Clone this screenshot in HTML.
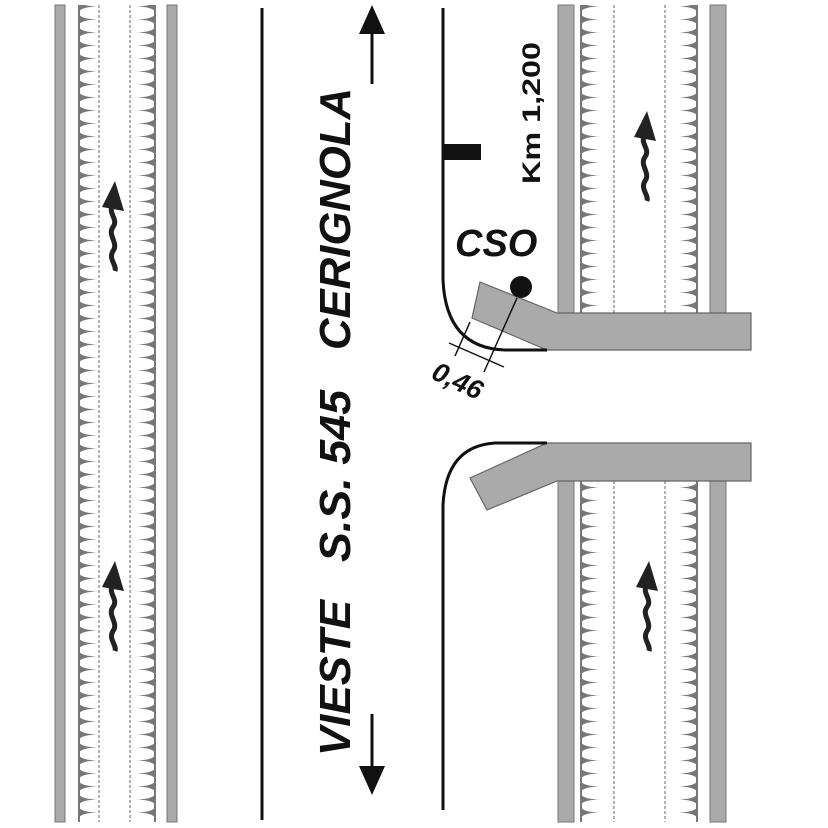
<!DOCTYPE html>
<html><head><style>html,body{margin:0;padding:0;background:#fff}svg{display:block}</style></head>
<body>
<svg width="828" height="828" viewBox="0 0 828 828" xmlns="http://www.w3.org/2000/svg">
<defs>
<pattern id="tl1" x="78" y="0" width="30" height="13" patternUnits="userSpaceOnUse">
<path d="M0,0 Q2,6 19,6.5 Q2,7 0,13 Z" fill="#777"/>
</pattern>
<pattern id="tr1" x="126" y="0" width="30" height="13" patternUnits="userSpaceOnUse">
<path d="M30,0 Q28,6 11,6.5 Q28,7 30,13 Z" fill="#777"/>
</pattern>
<pattern id="tl2" x="580" y="0" width="30" height="13" patternUnits="userSpaceOnUse">
<path d="M0,0 Q2,6 19,6.5 Q2,7 0,13 Z" fill="#777"/>
</pattern>
<pattern id="tr2" x="668" y="0" width="30" height="13" patternUnits="userSpaceOnUse">
<path d="M30,0 Q28,6 11,6.5 Q28,7 30,13 Z" fill="#777"/>
</pattern>
<g id="wave">
<path d="M0,0 C-6,8 6,14 0,22 C-6,30 6,38 0,46 C-5,54 4,60 2,66" fill="none" stroke="#222" stroke-width="5"/>
<path d="M-11,2 L2,-24 L11,6 Z" fill="#222"/>
</g>
</defs>
<rect x="55" y="5" width="10" height="817" fill="#aaa" stroke="#777" stroke-width="1"/>
<rect x="167" y="5" width="10" height="817" fill="#aaa" stroke="#777" stroke-width="1"/>
<rect x="78" y="5" width="20" height="817" fill="url(#tl1)"/>
<rect x="126" y="5" width="30" height="817" fill="url(#tr1)"/>
<line x1="79" y1="5" x2="79" y2="822" stroke="#777" stroke-width="2"/>
<line x1="155" y1="5" x2="155" y2="822" stroke="#777" stroke-width="2"/>
<line x1="99" y1="5" x2="99" y2="822" stroke="#888" stroke-width="1.3" stroke-dasharray="3,2"/>
<line x1="130" y1="5" x2="130" y2="822" stroke="#888" stroke-width="1.3" stroke-dasharray="3,2"/>
<use href="#wave" x="113" y="205"/>
<use href="#wave" x="113" y="585"/>
<g>
<rect x="558" y="5" width="16" height="308" fill="#aaa" stroke="#777"/>
<rect x="710" y="5" width="16" height="308" fill="#aaa" stroke="#777"/>
<rect x="580" y="5" width="20" height="308" fill="url(#tl2)"/>
<rect x="668" y="5" width="30" height="308" fill="url(#tr2)"/>
<line x1="581" y1="5" x2="581" y2="313" stroke="#777" stroke-width="2"/>
<line x1="697" y1="5" x2="697" y2="313" stroke="#777" stroke-width="2"/>
<line x1="614" y1="5" x2="614" y2="313" stroke="#888" stroke-width="1.3" stroke-dasharray="3,2"/>
<line x1="665" y1="5" x2="665" y2="313" stroke="#888" stroke-width="1.3" stroke-dasharray="3,2"/>
</g>
<g>
<rect x="558" y="481" width="16" height="341" fill="#aaa" stroke="#777"/>
<rect x="710" y="481" width="16" height="341" fill="#aaa" stroke="#777"/>
<rect x="580" y="481" width="20" height="341" fill="url(#tl2)"/>
<rect x="668" y="481" width="30" height="341" fill="url(#tr2)"/>
<line x1="581" y1="481" x2="581" y2="822" stroke="#777" stroke-width="2"/>
<line x1="697" y1="481" x2="697" y2="822" stroke="#777" stroke-width="2"/>
<line x1="614" y1="481" x2="614" y2="822" stroke="#888" stroke-width="1.3" stroke-dasharray="3,2"/>
<line x1="665" y1="481" x2="665" y2="822" stroke="#888" stroke-width="1.3" stroke-dasharray="3,2"/>
</g>
<use href="#wave" x="645" y="135"/>
<use href="#wave" x="647" y="585"/>
<polygon points="480,282 557,313 751,313 751,350 547,350 472,318" fill="#aaa" stroke="#666" stroke-width="1.2"/>
<polygon points="547,443 751,443 751,481 557,481 487,510 470,478" fill="#aaa" stroke="#666" stroke-width="1.2"/>
<line x1="262" y1="8" x2="262" y2="820" stroke="#111" stroke-width="3"/>
<path d="M443,8 L443,280 Q446,348 505,350 L547,350" fill="none" stroke="#111" stroke-width="3"/>
<path d="M547,443 L495,443 Q446,446 443,505 L443,810" fill="none" stroke="#111" stroke-width="3"/>
<rect x="443" y="144" width="38" height="16" fill="#111"/>
<circle cx="521" cy="287" r="11" fill="#111"/>
<line x1="517" y1="298" x2="484" y2="372" stroke="#111" stroke-width="1.5"/>
<line x1="470" y1="322" x2="455" y2="356" stroke="#111" stroke-width="1.5"/>
<line x1="449" y1="343" x2="504" y2="367" stroke="#111" stroke-width="1.5"/>
<text x="0" y="0" transform="translate(430,378) rotate(25)" font-family="Liberation Sans, sans-serif" font-weight="bold" font-style="italic" font-size="27" fill="#111">0,46</text>
<text x="455" y="256" font-family="Liberation Sans, sans-serif" font-weight="bold" font-style="italic" font-size="38" fill="#111">CSO</text>
<text transform="translate(540,184) rotate(-90)" font-family="Liberation Sans, sans-serif" font-weight="bold" font-size="25" fill="#111" textLength="142" lengthAdjust="spacingAndGlyphs">Km 1,200</text>
<g font-family="Liberation Sans, sans-serif" font-weight="bold" font-style="italic" font-size="44" fill="#111">
<text transform="translate(350,756) rotate(-90)" textLength="156" lengthAdjust="spacingAndGlyphs">VIESTE</text>
<text transform="translate(350,562) rotate(-90)" textLength="172" lengthAdjust="spacingAndGlyphs">S.S. 545</text>
<text transform="translate(350,350) rotate(-90)" textLength="262" lengthAdjust="spacingAndGlyphs">CERIGNOLA</text>
</g>
<line x1="372" y1="84" x2="372" y2="25" stroke="#111" stroke-width="3"/>
<polygon points="359,34 372,5 385,34" fill="#111"/>
<line x1="372" y1="714" x2="372" y2="775" stroke="#111" stroke-width="3"/>
<polygon points="359,766 372,795 385,766" fill="#111"/>
</svg>
</body></html>
